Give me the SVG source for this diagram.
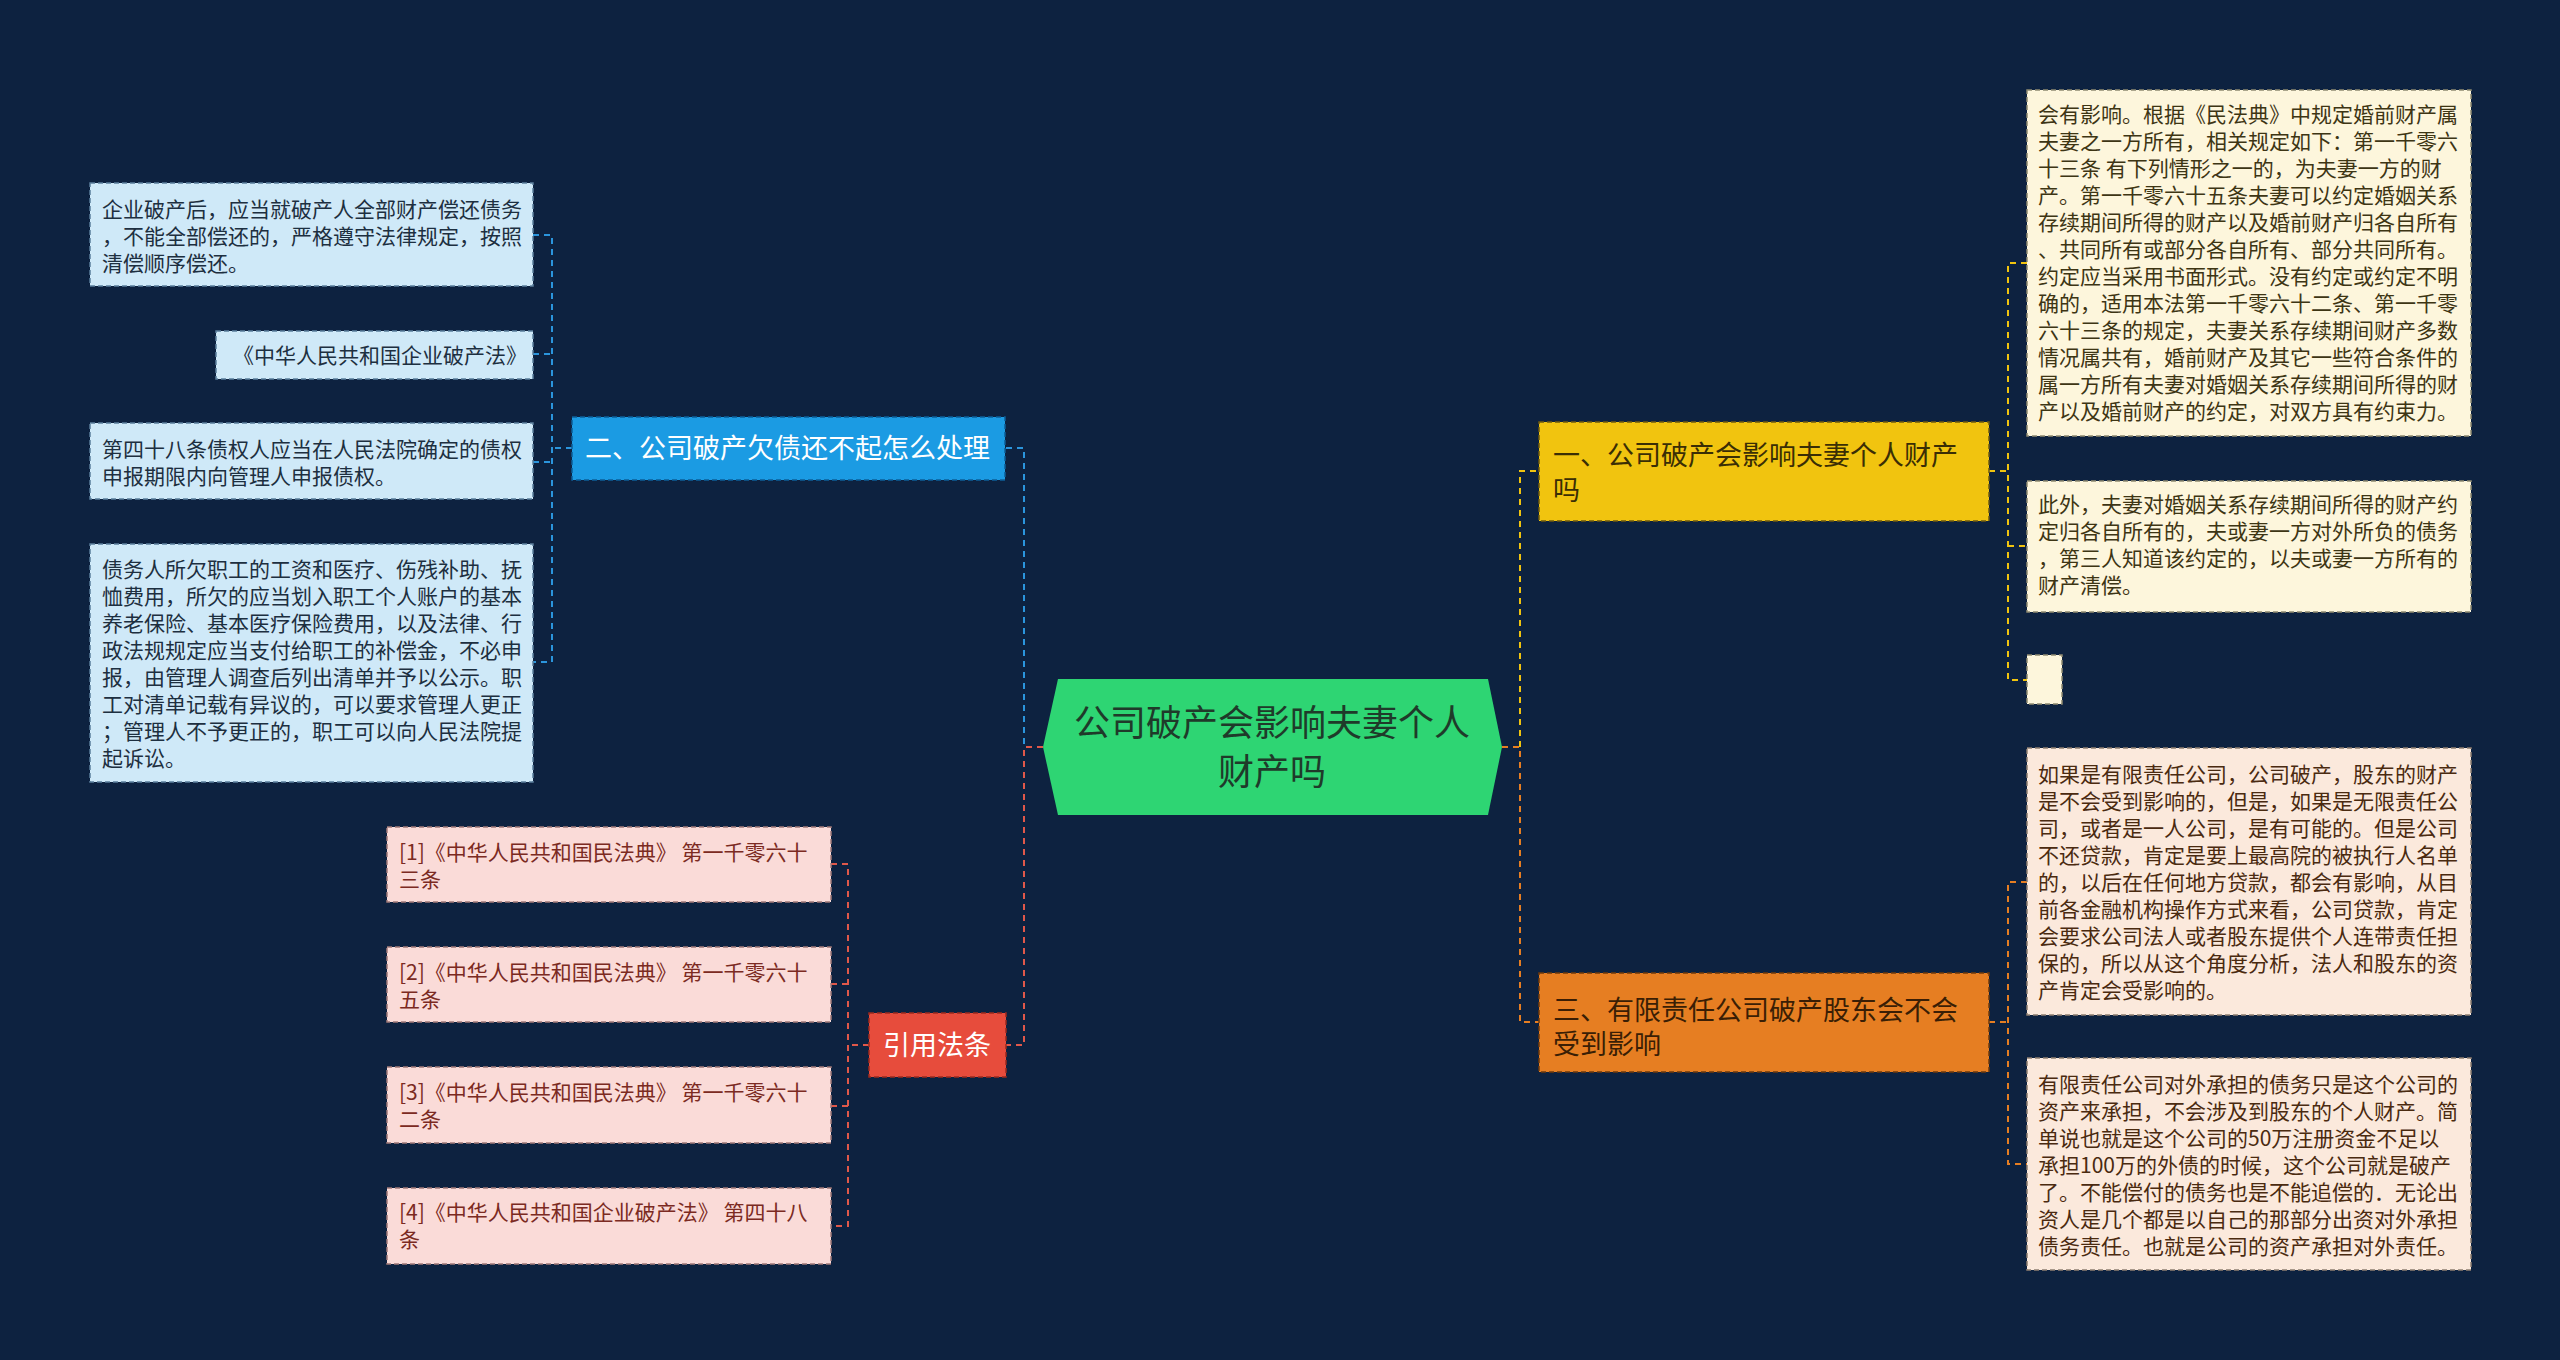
<svg xmlns="http://www.w3.org/2000/svg" width="2560" height="1360" viewBox="0 0 2560 1360">
<style>
text{font-family:"Noto Sans CJK SC","Noto Sans",sans-serif;}
.t21{font-size:21px;}
.t27{font-size:27px;}
.t36{font-size:36px;}
.c{fill:none;stroke-width:2;stroke-dasharray:6 5;}
.cb{stroke:#2b95dc;}
.cr{stroke:#e0584a;}
.cy{stroke:#f1c40f;}
.co{stroke:#e67e22;}
.bb{fill:#cfe9f8;stroke:#5b7f9c;stroke-width:1.5;stroke-dasharray:5 3;}
.bp{fill:#fadbd8;stroke:#a07a78;stroke-width:1.5;stroke-dasharray:5 3;}
.by{fill:#fdf6dc;stroke:#8f8a70;stroke-width:1.5;stroke-dasharray:5 3;}
.bo{fill:#fbe9dc;stroke:#8f7f70;stroke-width:1.5;stroke-dasharray:5 3;}
.tb{fill:#1d2f40;}
.tp{fill:#7b2a22;}
.ty{fill:#3d3514;}
.to{fill:#4a2a10;}
</style>
<rect x="0" y="0" width="2560" height="1360" fill="#0d2240"/>
<g id="connectors">
<path class="c cb" d="M1043,747 H1024 V448 H1005"/>
<path class="c cr" d="M1043,747 H1024 V1045 H1006"/>
<path class="c co" d="M1502,747 H1520 V1022 H1539"/>
<path class="c cy" d="M1520,747 V471 H1539"/>
<path class="c cb" d="M572,448 H552"/>
<path class="c cb" d="M533,235 H552 V662 H533"/>
<path class="c cb" d="M533,354 H552"/>
<path class="c cb" d="M533,462 H552"/>
<path class="c cr" d="M869,1045 H848"/>
<path class="c cr" d="M831,864 H848 V1226 H831"/>
<path class="c cr" d="M831,984 H848"/>
<path class="c cr" d="M831,1106 H848"/>
<path class="c cy" d="M1989,471 H2008"/>
<path class="c cy" d="M2027,263 H2008 V680 H2027"/>
<path class="c cy" d="M2008,546 H2027"/>
<path class="c co" d="M1989,1022 H2008"/>
<path class="c co" d="M2027,882 H2008 V1164 H2027"/>
</g>
<g id="root">
<polygon points="1043,747 1058,679 1488,679 1502,747 1488,815 1058,815" fill="#2ed573"/>
<text class="t36" x="1272" y="736" text-anchor="middle" fill="#1f3a2a">公司破产会影响夫妻个人</text>
<text class="t36" x="1272" y="785" text-anchor="middle" fill="#1f3a2a">财产吗</text>
</g>
<g id="n2">
<rect x="572" y="417" width="433" height="63" fill="#1b9be3" stroke="#0c5f98" stroke-width="1.5" stroke-dasharray="5 3"/>
<text class="t27" x="585" y="458" fill="#ffffff">二、公司破产欠债还不起怎么处理</text>
</g>
<g id="n2a">
<rect class="bb" x="90" y="183" width="443" height="103"/>
<text class="t21 tb" x="102" y="217">企业破产后，应当就破产人全部财产偿还债务</text>
<text class="t21 tb" x="102" y="244">，不能全部偿还的，严格遵守法律规定，按照</text>
<text class="t21 tb" x="102" y="271">清偿顺序偿还。</text>
</g>
<g id="n2b">
<rect class="bb" x="216" y="331" width="317" height="48"/>
<text class="t21 tb" x="233" y="363">《中华人民共和国企业破产法》</text>
</g>
<g id="n2c">
<rect class="bb" x="90" y="423" width="443" height="76"/>
<text class="t21 tb" x="102" y="457">第四十八条债权人应当在人民法院确定的债权</text>
<text class="t21 tb" x="102" y="484">申报期限内向管理人申报债权。</text>
</g>
<g id="n2d">
<rect class="bb" x="90" y="544" width="443" height="238"/>
<text class="t21 tb" x="102" y="577">债务人所欠职工的工资和医疗、伤残补助、抚</text>
<text class="t21 tb" x="102" y="604">恤费用，所欠的应当划入职工个人账户的基本</text>
<text class="t21 tb" x="102" y="631">养老保险、基本医疗保险费用，以及法律、行</text>
<text class="t21 tb" x="102" y="658">政法规规定应当支付给职工的补偿金，不必申</text>
<text class="t21 tb" x="102" y="685">报，由管理人调查后列出清单并予以公示。职</text>
<text class="t21 tb" x="102" y="712">工对清单记载有异议的，可以要求管理人更正</text>
<text class="t21 tb" x="102" y="739">；管理人不予更正的，职工可以向人民法院提</text>
<text class="t21 tb" x="102" y="766">起诉讼。</text>
</g>
<g id="nref">
<rect x="869" y="1013" width="137" height="64" fill="#e74c3c" stroke="#9c2a1e" stroke-width="1.5" stroke-dasharray="5 3"/>
<text class="t27" x="883" y="1055" fill="#ffffff">引用法条</text>
</g>
<g id="ref1">
<rect class="bp" x="387" y="827" width="444" height="75"/>
<text class="t21 tp" x="399" y="860">[1]《中华人民共和国民法典》 第一千零六十</text>
<text class="t21 tp" x="399" y="887">三条</text>
</g>
<g id="ref2">
<rect class="bp" x="387" y="947" width="444" height="75"/>
<text class="t21 tp" x="399" y="980">[2]《中华人民共和国民法典》 第一千零六十</text>
<text class="t21 tp" x="399" y="1007">五条</text>
</g>
<g id="ref3">
<rect class="bp" x="387" y="1067" width="444" height="76"/>
<text class="t21 tp" x="399" y="1100">[3]《中华人民共和国民法典》 第一千零六十</text>
<text class="t21 tp" x="399" y="1127">二条</text>
</g>
<g id="ref4">
<rect class="bp" x="387" y="1188" width="444" height="76"/>
<text class="t21 tp" x="399" y="1220">[4]《中华人民共和国企业破产法》 第四十八</text>
<text class="t21 tp" x="399" y="1247">条</text>
</g>
<g id="n1">
<rect x="1539" y="422" width="450" height="99" fill="#f1c40f" stroke="#6e5a10" stroke-width="1.5" stroke-dasharray="5 3"/>
<text class="t27" x="1553" y="465" fill="#3a2e05">一、公司破产会影响夫妻个人财产</text>
<text class="t27" x="1553" y="500" fill="#3a2e05">吗</text>
</g>
<g id="n1a">
<rect class="by" x="2027" y="90" width="444" height="346"/>
<text class="t21 ty" x="2038" y="122">会有影响。根据《民法典》中规定婚前财产属</text>
<text class="t21 ty" x="2038" y="149">夫妻之一方所有，相关规定如下：第一千零六</text>
<text class="t21 ty" x="2038" y="176">十三条 有下列情形之一的，为夫妻一方的财</text>
<text class="t21 ty" x="2038" y="203">产。第一千零六十五条夫妻可以约定婚姻关系</text>
<text class="t21 ty" x="2038" y="230">存续期间所得的财产以及婚前财产归各自所有</text>
<text class="t21 ty" x="2038" y="257">、共同所有或部分各自所有、部分共同所有。</text>
<text class="t21 ty" x="2038" y="284">约定应当采用书面形式。没有约定或约定不明</text>
<text class="t21 ty" x="2038" y="311">确的，适用本法第一千零六十二条、第一千零</text>
<text class="t21 ty" x="2038" y="338">六十三条的规定，夫妻关系存续期间财产多数</text>
<text class="t21 ty" x="2038" y="365">情况属共有，婚前财产及其它一些符合条件的</text>
<text class="t21 ty" x="2038" y="392">属一方所有夫妻对婚姻关系存续期间所得的财</text>
<text class="t21 ty" x="2038" y="419">产以及婚前财产的约定，对双方具有约束力。</text>
</g>
<g id="n1b">
<rect class="by" x="2027" y="481" width="444" height="131"/>
<text class="t21 ty" x="2038" y="512">此外，夫妻对婚姻关系存续期间所得的财产约</text>
<text class="t21 ty" x="2038" y="539">定归各自所有的，夫或妻一方对外所负的债务</text>
<text class="t21 ty" x="2038" y="566">，第三人知道该约定的，以夫或妻一方所有的</text>
<text class="t21 ty" x="2038" y="593">财产清偿。</text>
</g>
<g id="n1c">
<rect class="by" x="2027" y="655" width="35" height="49"/>
</g>
<g id="n3">
<rect x="1539" y="973" width="450" height="99" fill="#e67e22" stroke="#6e3a0c" stroke-width="1.5" stroke-dasharray="5 3"/>
<text class="t27" x="1553" y="1020" fill="#3a1e05">三、有限责任公司破产股东会不会</text>
<text class="t27" x="1553" y="1054" fill="#3a1e05">受到影响</text>
</g>
<g id="n3a">
<rect class="bo" x="2027" y="748" width="444" height="267"/>
<text class="t21 to" x="2038" y="782">如果是有限责任公司，公司破产，股东的财产</text>
<text class="t21 to" x="2038" y="809">是不会受到影响的，但是，如果是无限责任公</text>
<text class="t21 to" x="2038" y="836">司，或者是一人公司，是有可能的。但是公司</text>
<text class="t21 to" x="2038" y="863">不还贷款，肯定是要上最高院的被执行人名单</text>
<text class="t21 to" x="2038" y="890">的，以后在任何地方贷款，都会有影响，从目</text>
<text class="t21 to" x="2038" y="917">前各金融机构操作方式来看，公司贷款，肯定</text>
<text class="t21 to" x="2038" y="944">会要求公司法人或者股东提供个人连带责任担</text>
<text class="t21 to" x="2038" y="971">保的，所以从这个角度分析，法人和股东的资</text>
<text class="t21 to" x="2038" y="998">产肯定会受影响的。</text>
</g>
<g id="n3b">
<rect class="bo" x="2027" y="1058" width="444" height="212"/>
<text class="t21 to" x="2038" y="1092">有限责任公司对外承担的债务只是这个公司的</text>
<text class="t21 to" x="2038" y="1119">资产来承担，不会涉及到股东的个人财产。简</text>
<text class="t21 to" x="2038" y="1146">单说也就是这个公司的50万注册资金不足以</text>
<text class="t21 to" x="2038" y="1173">承担100万的外债的时候，这个公司就是破产</text>
<text class="t21 to" x="2038" y="1200">了。不能偿付的债务也是不能追偿的．无论出</text>
<text class="t21 to" x="2038" y="1227">资人是几个都是以自己的那部分出资对外承担</text>
<text class="t21 to" x="2038" y="1254">债务责任。也就是公司的资产承担对外责任。</text>
</g>
</svg>
